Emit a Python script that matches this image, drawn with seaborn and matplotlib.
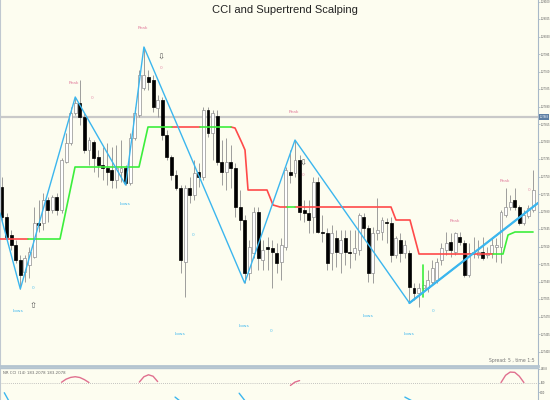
import numpy as np
import pandas as pd
import matplotlib
matplotlib.use("Agg")
import matplotlib.pyplot as plt
import matplotlib.transforms as mtransforms
from matplotlib import font_manager
import seaborn as sns

# ---------------- data (prices in points, 1 point = 0.00001) ----------------
opens = [127729, 127669, 127633, 127613, 127583, 127559, 127573, 127589, 127657, 127657,
         127703, 127683, 127709, 127683, 127779, 127817, 127877, 127897, 127869, 127803,
         127819, 127789, 127773, 127767, 127763, 127743, 127759, 127767, 127737, 127827,
         127873, 127927, 127949, 127943, 127887, 127903, 127833, 127789, 127753, 127727,
         127579, 127727, 127713, 127759, 127749, 127883, 127837, 127871, 127779, 127759,
         127779, 127767, 127689, 127663, 127557, 127597, 127679, 127583, 127609, 127607,
         127597, 127579, 127609, 127759, 127757, 127783, 127683, 127677, 127669, 127739,
         127639, 127637, 127597, 127627, 127597, 127627, 127599, 127597, 127603, 127669,
         127647, 127557, 127637, 127639, 127659, 127657, 127593, 127623, 127597, 127597,
         127527, 127517, 127527, 127527, 127539, 127543, 127583, 127603, 127619, 127599,
         127629, 127617, 127553, 127597, 127593, 127599, 127593, 127597, 127609, 127609,
         127673, 127689, 127703, 127689, 127657, 127671, 127683]
highs = [127749, 127677, 127643, 127623, 127593, 127593, 127609, 127689, 127703, 127717,
         127709, 127713, 127717, 127787, 127837, 127889, 127909, 127943, 127877, 127829,
         127823, 127803, 127809, 127817, 127809, 127813, 127823, 127773, 127837, 127889,
         127963, 128009, 127963, 127953, 127913, 127909, 127843, 127793, 127763, 127733,
         127733, 127749, 127783, 127777, 127889, 127889, 127883, 127883, 127823, 127827,
         127813, 127777, 127723, 127673, 127623, 127689, 127689, 127623, 127629, 127623,
         127617, 127627, 127769, 127803, 127823, 127793, 127703, 127703, 127749, 127749,
         127673, 127647, 127653, 127643, 127643, 127643, 127643, 127643, 127677, 127677,
         127653, 127649, 127707, 127669, 127667, 127669, 127631, 127637, 127623, 127603,
         127537, 127537, 127543, 127563, 127583, 127587, 127617, 127639, 127637, 127639,
         127639, 127623, 127617, 127629, 127623, 127629, 127609, 127627, 127627, 127683,
         127727, 127713, 127727, 127693, 127683, 127693, 127763]
lows = [127659, 127623, 127603, 127577, 127525, 127539, 127547, 127587, 127639, 127643,
        127659, 127677, 127673, 127677, 127777, 127813, 127873, 127853, 127797, 127773,
        127759, 127749, 127743, 127733, 127727, 127727, 127739, 127733, 127733, 127823,
        127869, 127923, 127923, 127879, 127869, 127823, 127783, 127743, 127723, 127557,
        127509, 127697, 127703, 127729, 127743, 127829, 127783, 127773, 127733, 127723,
        127727, 127669, 127643, 127537, 127543, 127587, 127563, 127563, 127563, 127527,
        127557, 127543, 127603, 127737, 127749, 127663, 127659, 127637, 127637, 127637,
        127619, 127563, 127563, 127569, 127557, 127573, 127567, 127583, 127593, 127627,
        127539, 127537, 127623, 127623, 127617, 127579, 127587, 127579, 127587, 127497,
        127503, 127489, 127519, 127519, 127533, 127537, 127573, 127593, 127589, 127593,
        127613, 127549, 127549, 127587, 127587, 127583, 127587, 127587, 127579, 127577,
        127669, 127683, 127683, 127653, 127653, 127667, 127679]
closes = [127669, 127629, 127613, 127583, 127553, 127587, 127599, 127657, 127653, 127703,
          127683, 127709, 127683, 127783, 127817, 127877, 127897, 127869, 127803, 127823,
          127787, 127773, 127767, 127759, 127743, 127767, 127767, 127737, 127827, 127877,
          127953, 127953, 127939, 127889, 127903, 127833, 127789, 127753, 127727, 127583,
          127727, 127713, 127757, 127749, 127883, 127837, 127877, 127779, 127759, 127779,
          127767, 127689, 127663, 127557, 127609, 127679, 127587, 127603, 127605, 127599,
          127577, 127613, 127763, 127753, 127783, 127679, 127677, 127663, 127739, 127639,
          127637, 127577, 127637, 127599, 127623, 127599, 127597, 127607, 127673, 127647,
          127557, 127637, 127643, 127663, 127657, 127593, 127627, 127597, 127613, 127529,
          127517, 127527, 127533, 127543, 127567, 127579, 127607, 127617, 127603, 127637,
          127619, 127553, 127597, 127599, 127599, 127587, 127597, 127613, 127613, 127679,
          127689, 127699, 127689, 127657, 127673, 127687, 127723]

# ZigZag vertices (bar index, price)
zz_bar = [-0.44, 4, 16, 27, 31, 53, 64, 89, 117.08]
zz_price = [127677, 127525, 127909, 127733, 128009, 127537, 127823, 127497, 127697]

# Supertrend segments (bar index, price)
st_red = [
    ([-0.44, 5.68], [127625, 127625]),
    ([37.13, 43.25], [127849, 127849]),
    ([50.02, 50.9, 52.42, 53.08, 53.74, 57.89, 59.2, 60.73, 62.25],
     [127849, 127847, 127817, 127803, 127723, 127723, 127693, 127689, 127689]),
    ([64.0, 84.97, 86.06, 89.12, 91.09, 107.25],
     [127689, 127689, 127663, 127663, 127595, 127595]),
]
st_green = [
    ([5.68, 12.67, 15.95, 29.93, 31.89, 37.13],
     [127625, 127625, 127769, 127769, 127849, 127849]),
    ([43.25, 50.02], [127849, 127849]),
    ([62.25, 64.0], [127689, 127689]),
    ([91.96, 91.96], [127573, 127509]),
    ([107.25, 109.44, 110.53, 112.06, 116.0], [127595, 127595, 127633, 127639, 127639]),
]

level_price = 127869

peak_bar = [30.8, 15.7, 63.8, 98.95, 109.9]
peak_price = [128047, 127937, 127879, 127661, 127741]
pink_mark_bar = [19.66, 34.7, 65.75, 115.1]
pink_mark_price = [127907, 127967, 127753, 127723]
low_bar = [3.5, 26.9, 38.9, 52.9, 79.9, 88.9]
low_price = [127481, 127695, 127435, 127451, 127471, 127435]
blue_mark_bar = [6.77, 41.7, 58.8, 94.1]
blue_mark_price = [127527, 127633, 127441, 127481]
up_arrow_bar, up_arrow_price = [6.77], [127493]
down_arrow_bar, down_arrow_price = [34.7, 65.75], [127989, 127777]

price_ticks = [128100 - 35 * k for k in range(21)]

# CCI pieces (bar index, value)
cci_pink = [
    ([13, 14, 15, 16, 17, 18, 19], [103, 135, 153, 160, 152, 130, 100]),
    ([30, 31, 32, 33, 34], [105, 160, 180, 165, 110]),
    ([63, 64, 65], [70, 105, 120]),
    ([109, 110, 111, 112, 113, 114], [100, 175, 208, 205, 165, 100]),
]
cci_blue = [
    ([0.5, 1.5], [-5, -90]),
    ([37.8, 39.0], [-50, -95]),
    ([51.8, 53.2], [-10, -95]),
    ([88.0, 89.8], [-50, -95]),
]
cci_ticks = [240.8024, 100, 0]
cci_tick_labels = ["240.8", "100", "0.00"]

# ---------------- drawing ----------------
sns.set_theme(style="white")
plt.rcParams["font.family"] = ["DejaVu Sans"]


def have_font(name):
    try:
        font_manager.findfont(name, fallback_to_default=False)
        return True
    except Exception:
        return False


narrow = "Liberation Sans Narrow" if have_font("Liberation Sans Narrow") else None
title_family = [narrow, "DejaVu Sans"] if narrow else ["Liberation Sans", "DejaVu Sans"]
title_size = 10 if narrow else 8
tick_family = [narrow] if narrow else ["Liberation Sans", "DejaVu Sans"]

bg = "#fdfdf0"
fig = plt.figure(figsize=(5.5, 4), dpi=100)
fig.patch.set_facecolor(bg)
ax = fig.add_axes([0, 34 / 400, 538 / 550, 366 / 400])
sub = fig.add_axes([0, 0, 538 / 550, 32 / 400])
for a in (ax, sub):
    a.set_facecolor(bg)
    a.set_xlim(-0.437, 117.08)
    a.set_xticks([])
    a.grid(False)

df = pd.DataFrame({"o": opens, "h": highs, "l": lows, "c": closes})
df["bar"] = np.arange(len(df))
df["up"] = df["c"] >= df["o"]
df["lo"] = df[["o", "c"]].min(axis=1)
df["hgt"] = (df["c"] - df["o"]).abs().clip(lower=2)

ax.axhline(level_price, color="#c9c9c9", lw=1.6, zorder=1)
ax.vlines(df["bar"], df["l"], df["h"], color="#8f8f8f", lw=0.6, zorder=2)
upd = df[df["up"]]
dnd = df[~df["up"]]
ax.bar(upd["bar"], upd["hgt"], bottom=upd["lo"], width=0.64, color="white",
       edgecolor="#8f8f8f", linewidth=0.5, zorder=3)
ax.bar(dnd["bar"], dnd["hgt"], bottom=dnd["lo"], width=0.64, color="black",
       edgecolor="black", linewidth=0.5, zorder=3)

for xs, ys in st_red:
    sns.lineplot(x=xs, y=ys, ax=ax, color="#ff4a4a", lw=1.2, sort=False,
                 estimator=None, zorder=4)
for xs, ys in st_green:
    sns.lineplot(x=xs, y=ys, ax=ax, color="#3cee3c", lw=1.2, sort=False,
                 estimator=None, zorder=4)

sns.lineplot(x=zz_bar, y=zz_price, ax=ax, color="#3bb6ee", lw=1.0, sort=False,
             estimator=None, zorder=5)
sns.lineplot(x=zz_bar[-2:], y=zz_price[-2:], ax=ax, color="#3bb6ee", lw=1.6,
             sort=False, estimator=None, zorder=5)

for x, y in zip(peak_bar, peak_price):
    ax.text(x, y, "Peak", color="#e07a9a", fontsize=3.2, ha="center", va="center", zorder=6)
for x, y in zip(pink_mark_bar, pink_mark_price):
    ax.text(x, y, "0", color="#e592ac", fontsize=3.2, ha="center", va="center", zorder=6)
for x, y in zip(low_bar, low_price):
    ax.text(x, y, "Lows", color="#3bb6ee", fontsize=3.2, ha="center", va="center", zorder=6)
for x, y in zip(blue_mark_bar, blue_mark_price):
    ax.text(x, y, "0", color="#5cc4ee", fontsize=3.2, ha="center", va="center", zorder=6)
for x, y in zip(up_arrow_bar, up_arrow_price):
    ax.text(x, y, "\u21e7", color="#555555", fontsize=6, ha="center", va="center", zorder=6)
for x, y in zip(down_arrow_bar, down_arrow_price):
    ax.text(x, y, "\u21e9", color="#555555", fontsize=6, ha="center", va="center", zorder=6)

ax.set_ylim(127371, 128103)
ax.yaxis.tick_right()
ax.set_yticks(price_ticks)
ax.set_yticklabels([f"{p / 1e5:.5f}" for p in price_ticks], family=tick_family)
ax.tick_params(axis="y", length=1.2, width=0.5, color="#9fb0c0", labelsize=1.9,
               labelcolor="#555555", pad=0.5)
ax.set_xlabel("")
ax.set_ylabel("")
ax.spines["top"].set_visible(False)
ax.spines["left"].set_color("#c0c8d0")
ax.spines["left"].set_linewidth(0.8)
ax.spines["right"].set_color("#a8b8c8")
ax.spines["right"].set_linewidth(0.8)
ax.spines["bottom"].set_color("#b4c4d0")
ax.spines["bottom"].set_linewidth(2)

trans = mtransforms.blended_transform_factory(ax.transAxes, ax.transData)
ax.text(1.003, level_price, f"{level_price / 1e5:.5f}", transform=trans, fontsize=1.8,
        family=tick_family, color="white", va="center", ha="left", zorder=7,
        bbox=dict(boxstyle="square,pad=0.3", fc="#5d7fa3", ec="none"))
ax.text(0.994, 0.008, "Spread: 5 , time 1:5", transform=ax.transAxes, fontsize=3.3,
        color="#777777", ha="right", va="bottom")

fig.text(285 / 550, 1 - 10 / 400, "CCI and Supertrend Scalping",
         family=title_family, fontsize=title_size,
         color="#222222", ha="center", va="center")

# CCI sub panel
sub.axhline(100, color="#b0b0b0", lw=0.6, ls=(0, (1, 1.5)), zorder=1)
for xs, ys in cci_pink:
    sns.lineplot(x=xs, y=ys, ax=sub, color="#e0708f", lw=1.0, sort=False, estimator=None)
for xs, ys in cci_blue:
    sns.lineplot(x=xs, y=ys, ax=sub, color="#3bb6ee", lw=1.0, sort=False, estimator=None)
sub.set_ylim(-80, 250)
sub.yaxis.tick_right()
sub.set_yticks(cci_ticks)
sub.set_yticklabels(cci_tick_labels, family=tick_family)
sub.tick_params(axis="y", length=1.2, width=0.5, color="#9fb0c0", labelsize=1.9,
                labelcolor="#555555", pad=0.5)
sub.set_xlabel("")
sub.set_ylabel("")
sub.spines["top"].set_color("#b4c4d0")
sub.spines["top"].set_linewidth(1)
sub.spines["bottom"].set_visible(False)
sub.spines["left"].set_color("#c0c8d0")
sub.spines["left"].set_linewidth(0.8)
sub.spines["right"].set_color("#a8b8c8")
sub.spines["right"].set_linewidth(0.8)
sub.text(0.005, 0.85, "NR CCI (14) 183.2078 183.2078", transform=sub.transAxes,
         fontsize=2.8, color="#666666", va="center", ha="left")

fig.savefig("out.png", dpi=100, facecolor=bg)
